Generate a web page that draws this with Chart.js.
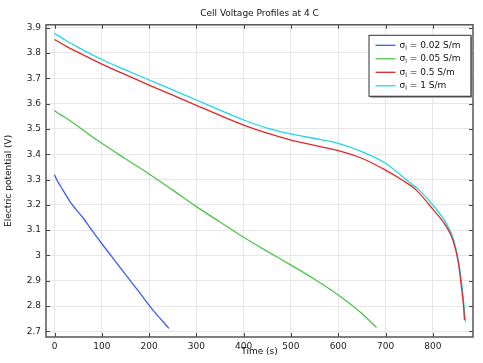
<!DOCTYPE html>
<html>
<head>
<meta charset="utf-8">
<script src="https://cdn.jsdelivr.net/npm/chart.js@4.4.1/dist/chart.umd.min.js"></script>
<style>
  html, body { margin: 0; padding: 0; background: #fff; }
</style>
</head>
<body>
<canvas id="voltChart" width="483" height="363"></canvas>
<script>
// data (time in s, potential in V)
const time002 = [0, 5, 12, 22, 33, 45, 61, 77, 93, 120, 150, 180, 210, 242];
const volt002 = [3.319, 3.298, 3.276, 3.245, 3.212, 3.183, 3.147, 3.105, 3.064, 2.998, 2.925, 2.853, 2.78, 2.712];

const time005 = [0, 10, 20, 43, 70, 100, 150, 200, 250, 300, 350, 400, 450, 500, 550, 600, 650, 681];
const volt005 = [3.572, 3.559, 3.548, 3.519, 3.482, 3.443, 3.382, 3.322, 3.258, 3.193, 3.132, 3.072, 3.016, 2.962, 2.906, 2.844, 2.771, 2.715];

const time05 = [0, 25, 50, 100, 150, 200, 250, 300, 350, 400, 450, 500, 550, 600, 650, 700, 735, 765, 800, 829, 843, 854, 861, 865, 867];
const volt05 = [3.853, 3.826, 3.802, 3.756, 3.714, 3.673, 3.633, 3.593, 3.553, 3.515, 3.483, 3.456, 3.435, 3.414, 3.384, 3.337, 3.298, 3.258, 3.183, 3.113, 3.058, 2.972, 2.868, 2.8, 2.745];

const time1 = [0, 25, 50, 100, 150, 200, 250, 300, 350, 400, 450, 500, 550, 600, 650, 700, 750, 770, 800, 829, 843, 854, 862, 866, 869];
const volt1 = [3.877, 3.848, 3.822, 3.774, 3.733, 3.693, 3.654, 3.614, 3.574, 3.535, 3.503, 3.48, 3.462, 3.443, 3.41, 3.364, 3.29, 3.26, 3.2, 3.125, 3.068, 2.982, 2.875, 2.8, 2.737];

const seriesLabels = ["σₗ = 0.02 S/m", "σₗ = 0.05 S/m", "σₗ = 0.5 S/m", "σₗ = 1 S/m"];
const xTicks = [0, 100, 200, 300, 400, 500, 600, 700, 800];
const yTicks = [2.7, 2.8, 2.9, 3, 3.1, 3.2, 3.3, 3.4, 3.5, 3.6, 3.7, 3.8, 3.9];

const colors = ["#3a5cff", "#4cc44c", "#e02828", "#22d8e2"];
const FONT = "DejaVu Sans";

// zip x/y arrays into points
function toPoints(xs, ys) {
  return xs.map((x, i) => ({ x: x, y: ys[i] }));
}

const allSeries = [
  toPoints(time002, volt002),
  toPoints(time005, volt005),
  toPoints(time05, volt05),
  toPoints(time1, volt1),
];

// frame + inward tick marks on all four sides
const framePlugin = {
  id: "frame",
  afterDatasetsDraw(chart) {
    const { ctx, chartArea: a } = chart;
    const xs = chart.scales.x, ys = chart.scales.y;
    ctx.save();
    ctx.strokeStyle = "#444";
    ctx.lineWidth = 1;
    ctx.beginPath();
    xTicks.forEach((v) => {
      const px = Math.round(xs.getPixelForValue(v)) + 0.5;
      ctx.moveTo(px, a.bottom); ctx.lineTo(px, a.bottom - 4);
      ctx.moveTo(px, a.top); ctx.lineTo(px, a.top + 4);
    });
    yTicks.forEach((v) => {
      const py = Math.round(ys.getPixelForValue(v)) + 0.5;
      ctx.moveTo(a.left, py); ctx.lineTo(a.left + 4, py);
      ctx.moveTo(a.right, py); ctx.lineTo(a.right - 4, py);
    });
    ctx.stroke();
    ctx.lineWidth = 1.5;
    ctx.strokeStyle = "#555";
    ctx.strokeRect(a.left, a.top, a.right - a.left, a.bottom - a.top);
    ctx.restore();
  },
};

// legend box in the upper right corner of the plot
const legendBoxPlugin = {
  id: "legendBox",
  afterDraw(chart) {
    const { ctx, chartArea: a } = chart;
    const w = 102, h = 61;
    const bx = a.right - w - 2.5, by = a.top + 10;
    ctx.save();
    ctx.fillStyle = "#9a9a9a";
    ctx.fillRect(bx + 2, by + 2, w, h);
    ctx.fillStyle = "#fff";
    ctx.fillRect(bx, by, w, h);
    ctx.strokeStyle = "#333";
    ctx.lineWidth = 1;
    ctx.strokeRect(bx + 0.5, by + 0.5, w, h);
    chart.data.datasets.forEach((ds, i) => {
      const cy = by + 10.5 + i * 13.5;
      ctx.strokeStyle = ds.borderColor;
      ctx.lineWidth = 1.3;
      ctx.beginPath();
      ctx.moveTo(bx + 7, cy); ctx.lineTo(bx + 27, cy);
      ctx.stroke();
      // sigma with a small subscript l, then the rest of the label
      ctx.fillStyle = "#111";
      ctx.textBaseline = "middle";
      let tx = bx + 31;
      ctx.font = "9px '" + FONT + "'";
      ctx.fillText("σ", tx, cy);
      tx += ctx.measureText("σ").width;
      ctx.font = "6px '" + FONT + "'";
      ctx.fillText("l", tx, cy + 3);
      tx += ctx.measureText("l").width;
      ctx.font = "9px '" + FONT + "'";
      ctx.fillText(ds.label.slice(2), tx, cy);
    });
    ctx.restore();
  },
};

const ctx = document.getElementById("voltChart").getContext("2d");

const voltChart = new Chart(ctx, {
  type: "line",
  data: {
    datasets: allSeries.map((pts, i) => ({
      label: seriesLabels[i],
      data: pts,
      borderColor: colors[i],
      backgroundColor: colors[i],
      borderWidth: 1.3,
      pointRadius: 0,
      fill: false,
      cubicInterpolationMode: "monotone",
    })),
  },
  options: {
    responsive: false,
    animation: false,
    devicePixelRatio: 1,
    layout: { padding: { top: 0, right: 10, bottom: 0, left: 0 } },
    plugins: {
      legend: { display: false },
      tooltip: { enabled: false },
      title: {
        display: true,
        text: "Cell Voltage Profiles at 4 C",
        fullSize: false,
        color: "#111",
        font: { family: FONT, size: 9, weight: "normal" },
        padding: { top: 8, bottom: 6 },
      },
    },
    scales: {
      x: {
        type: "linear",
        min: -18,
        max: 885,
        afterBuildTicks: (scale) => { scale.ticks = xTicks.map((v) => ({ value: v })); },
        afterFit: (scale) => { scale.height = 26; },
        grid: { color: "#e6e6e6", drawTicks: false },
        border: { display: false },
        ticks: {
          color: "#222",
          padding: 4,
          maxRotation: 0,
          font: { family: FONT, size: 9 },
          callback: (v) => String(v),
        },
        title: {
          display: true,
          text: "Time (s)",
          color: "#111",
          font: { family: FONT, size: 9 },
          padding: { top: 0, bottom: 6 },
        },
      },
      y: {
        type: "linear",
        min: 2.678,
        max: 3.911,
        afterBuildTicks: (scale) => { scale.ticks = yTicks.map((v) => ({ value: v })); },
        afterFit: (scale) => { scale.width = 46; },
        grid: { color: "#e6e6e6", drawTicks: false },
        border: { display: false },
        ticks: {
          color: "#222",
          padding: 5,
          font: { family: FONT, size: 9 },
          callback: (v) => String(Math.round(v * 10) / 10),
        },
        title: {
          display: true,
          text: "Electric potential (V)",
          color: "#111",
          font: { family: FONT, size: 9 },
          padding: { top: 3, bottom: 0 },
        },
      },
    },
  },
  plugins: [framePlugin, legendBoxPlugin],
});
</script>
</body>
</html>
